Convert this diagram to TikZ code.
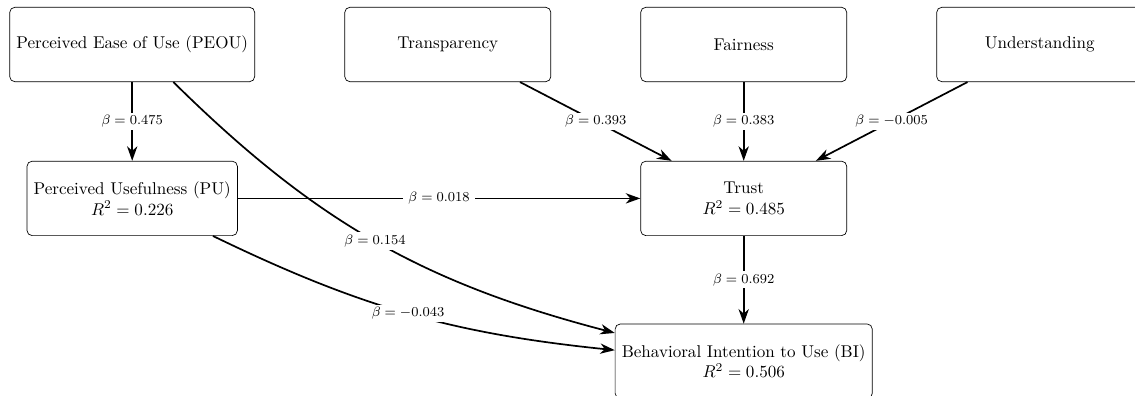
\documentclass[tikz,border=0pt]{standalone}
\usetikzlibrary{arrows.meta}

\tikzset{
  construct/.style={draw, rounded corners=3pt, align=center,
    minimum width=120.7pt, minimum height=43.6pt, inner sep=3.9pt},
  path arrow/.style={line width=1pt, -{Stealth[length=8.5pt, width=6pt, inset=2.6pt]}},
  coef/.style={fill=white, font=\footnotesize, inner xsep=3pt, inner ysep=1.5pt}
}

\begin{document}
\begin{tikzpicture}[x=0.5858pt, y=-0.5858pt]
  \useasboundingbox (0,0) rectangle (1135,396);

  % exogenous constructs
  \node[construct] (peou)   at (132.2, 44.5)  {Perceived Ease of Use (PEOU)};
  \node[construct] (transp) at (447.8, 44.5)  {Transparency};
  \node[construct] (fair)   at (743.7, 44.5)  {Fairness};
  \node[construct] (under)  at (1039.7, 44.5) {Understanding};

  % mediators
  \node[construct] (pu)    at (132.2, 198.4) {Perceived Usefulness (PU)\\ $R^2 = 0.226$};
  \node[construct] (trust) at (743.7, 198.4) {Trust\\ $R^2 = 0.485$};

  % outcome
  \node[construct] (bi) at (743.7, 361.2) {Behavioral Intention to Use (BI)\\ $R^2 = 0.506$};

  % structural paths
  \draw[path arrow] (peou) -- node[coef] {$\beta = 0.475$} (pu);
  \draw[path arrow] (peou) to[bend right=15] node[coef] {$\beta = 0.154$} (bi);
  \draw[path arrow] (pu) -- node[coef] {$\beta = 0.018$} (trust);
  \draw[path arrow] (pu) to[bend right=10] node[coef] {$\beta = -0.043$} (bi);
  \draw[path arrow] (transp) -- node[coef] {$\beta = 0.393$} (trust);
  \draw[path arrow] (fair) -- node[coef] {$\beta = 0.383$} (trust);
  \draw[path arrow] (under) -- node[coef] {$\beta = -0.005$} (trust);
  \draw[path arrow] (trust) -- node[coef] {$\beta = 0.692$} (bi);
\end{tikzpicture}
\end{document}
